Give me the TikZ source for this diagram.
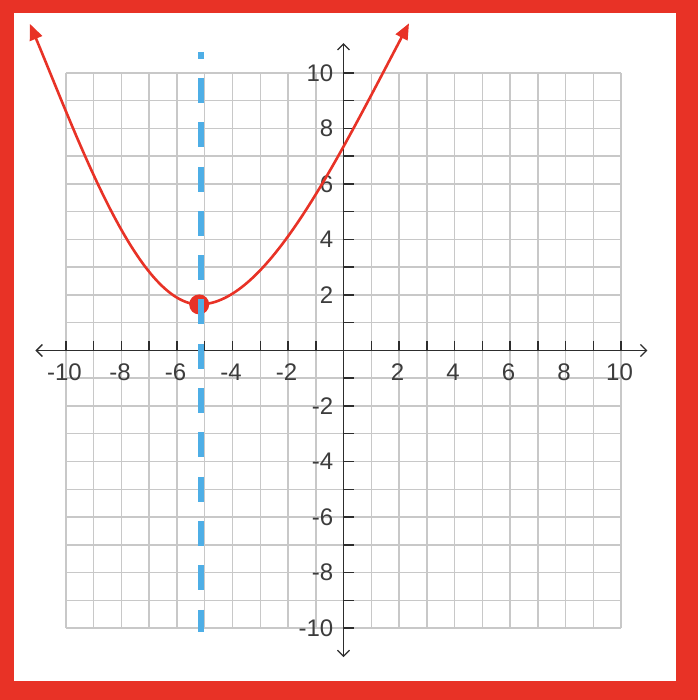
\documentclass[tikz,border=0pt]{standalone}
\usepackage{fontspec}
\setmainfont{Liberation Sans}
\usetikzlibrary{arrows.meta}
\definecolor{framered}{RGB}{232,50,38}
\definecolor{gridgray}{RGB}{200,200,200}
\definecolor{axisdark}{RGB}{45,45,45}
\definecolor{labelgray}{RGB}{60,60,60}
\definecolor{dashblue}{RGB}{78,174,230}
\tikzset{
  gridline/.style={gridgray, line width=1.5pt},
  axisline/.style={axisdark, line width=1.8pt},
  tickline/.style={axisdark, line width=1.5pt},
  lbl/.style={text=labelgray, font=\fontsize{24}{24}\selectfont, inner sep=0pt},
  curveline/.style={framered, line width=2.6pt},
  symline/.style={dashblue, line width=6pt},
}
\begin{document}
\begin{tikzpicture}[x=27.75pt, y=27.75pt]
  % frame
  \fill[framered] (-343.5pt,-349.5pt) rectangle (354.5pt,350.5pt);
  \fill[white] (-329.5pt,-330.5pt) rectangle (332.5pt,337.5pt);
  \useasboundingbox (-343.5pt,-349.5pt) rectangle (354.5pt,350.5pt);
  % grid
  \foreach \i in {-10,...,10} {
    \draw[gridline] (\i,-10) -- (\i,10);
    \draw[gridline] (-10,\i) -- (10,\i);
  }
  % axes
  \coordinate (xl) at (-11.1,0);
  \coordinate (xr) at (10.95,0);
  \coordinate (yb) at (0,-11.05);
  \coordinate (yt) at (0,11.08);
  \draw[axisline, {Straight Barb[length=6pt,width=12pt,line width=1.3pt]}-{Straight Barb[length=6pt,width=12pt,line width=1.3pt]}] (xl) -- (xr);
  \draw[axisline, {Straight Barb[length=6pt,width=12pt,line width=1.3pt]}-{Straight Barb[length=6pt,width=12pt,line width=1.3pt]}] (yb) -- (yt);
  % ticks
  \foreach \i in {-10,...,-1,1,2,...,10} {
    \draw[tickline] (\i,0) -- ++(0,9pt);
    \draw[tickline] (0,\i) -- ++(10pt,0);
  }
  % labels
  \foreach \i in {-10,-8,...,-2,2,4,...,10} {
    \node[lbl] (xl\i) at ([xshift=-1.5pt,yshift=-22pt]\i,0) {\i};
    \node[lbl, anchor=east] (yl\i) at ([xshift=-10pt]0,\i) {\i};
  }
  % parabola
  \coordinate (tipL) at (-11.3,11.77);
  \coordinate (tipR) at (2.36,11.79);
  \node[circle, fill=framered, minimum size=20pt, inner sep=0pt] (vertex) at (-5.2,1.66) {};
  \draw[curveline, {Triangle[length=16pt,width=13pt]}-{Triangle[length=16pt,width=13pt]}]
    (tipL) .. controls (-9.5,7.45) and (-7.4,1.66) .. (vertex.center)
           .. controls (-2.8,1.66) and (-0.34,6.66) .. (tipR);
  % axis of symmetry (dashed, drawn piece by piece)
  \coordinate (st) at (-5.12,0);
  \draw[symline] ([yshift=298.5pt]st) -- ([yshift=291.8pt]st);
  \foreach \k in {0,...,12} {
    \pgfmathsetmacro\dtop{272.5-44.3*\k}
    \pgfmathsetmacro\dbot{max(272.5-44.3*\k-25,-281.5)}
    \draw[symline] ([yshift=\dtop pt]st) -- ([yshift=\dbot pt]st);
  }
\end{tikzpicture}
\end{document}
